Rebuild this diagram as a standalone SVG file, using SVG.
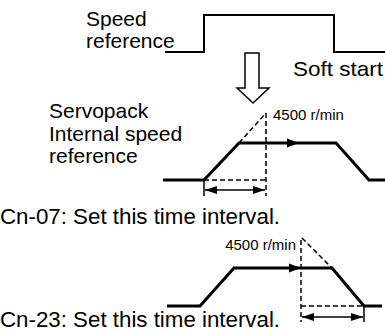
<svg xmlns="http://www.w3.org/2000/svg" width="385" height="334" viewBox="0 0 385 334">
<style>
text{font-family:"Liberation Sans",Arial,sans-serif;fill:#000}
.lbl{font-size:21px}
.cn{font-size:22.3px}
.sm{font-size:15px}
.thick{fill:none;stroke:#000;stroke-width:3;stroke-linejoin:miter}
.thin{fill:none;stroke:#000;stroke-width:1.5}
.dash{fill:none;stroke:#000;stroke-width:1.5;stroke-dasharray:5 3}
.head{fill:#000;stroke:none}
</style>
<defs>
<marker id="ah" viewBox="0 0 12 8" refX="12" refY="4" markerWidth="12" markerHeight="8" markerUnits="userSpaceOnUse" orient="auto-start-reverse">
<path d="M0,0 L12,4 L0,8 Z" fill="#000"/>
</marker>
</defs>
<g id="speed-reference">
<text class="lbl" x="86" y="26">Speed</text>
<text class="lbl" x="86" y="48">reference</text>
<path d="M165,52 H204 V15 H334 V52 H385" fill="none" stroke="#000" stroke-width="2"/>
</g>
<g id="soft-start">
<polygon points="245,53 259,53 259,88 269,88 253,103 237,88 245,88" fill="#fff" stroke="#000" stroke-width="1.5"/>
<text class="lbl" x="293" y="76" textLength="90" lengthAdjust="spacingAndGlyphs">Soft start</text>
</g>
<g id="internal-speed-reference">
<text class="lbl" x="49" y="118">Servopack</text>
<text class="lbl" x="49" y="141">Internal speed</text>
<text class="lbl" x="49" y="163">reference</text>
<text class="sm" x="273" y="120">4500 r/min</text>
<path class="thick" d="M163,180 H204 L239,143 H336 L369,180 H385"/>
<path class="head" d="M287,138.5 L299,143 L287,147.5 Z"/>
</g>
<g id="accel-dim">
<path class="dash" d="M239,143 L266,113"/>
<path class="dash" d="M266,113 V196"/>
<path class="dash" d="M204,180 H266"/>
<path class="thin" d="M204,180 V196"/>
<path class="thin" d="M205,190 H265" marker-start="url(#ah)" marker-end="url(#ah)"/>
<text class="cn" x="0" y="224">Cn-07: Set this time interval.</text>
</g>
<g id="decel-graph">
<text class="sm" x="296" y="250" text-anchor="end">4500 r/min</text>
<path class="thick" d="M167,306 H200 L234,268 H332 L364,306 H382"/>
<path class="head" d="M289,263.5 L301,268 L289,272.5 Z"/>
</g>
<g id="decel-dim">
<path class="dash" d="M302,238 L332,268"/>
<path class="dash" d="M301,240 V322"/>
<path class="dash" d="M301,306 H364"/>
<path class="thin" d="M364,306 V322"/>
<path class="thin" d="M302,317 H363" marker-start="url(#ah)" marker-end="url(#ah)"/>
<text class="cn" x="0" y="327">Cn-23: Set this time interval.</text>
</g>
</svg>
